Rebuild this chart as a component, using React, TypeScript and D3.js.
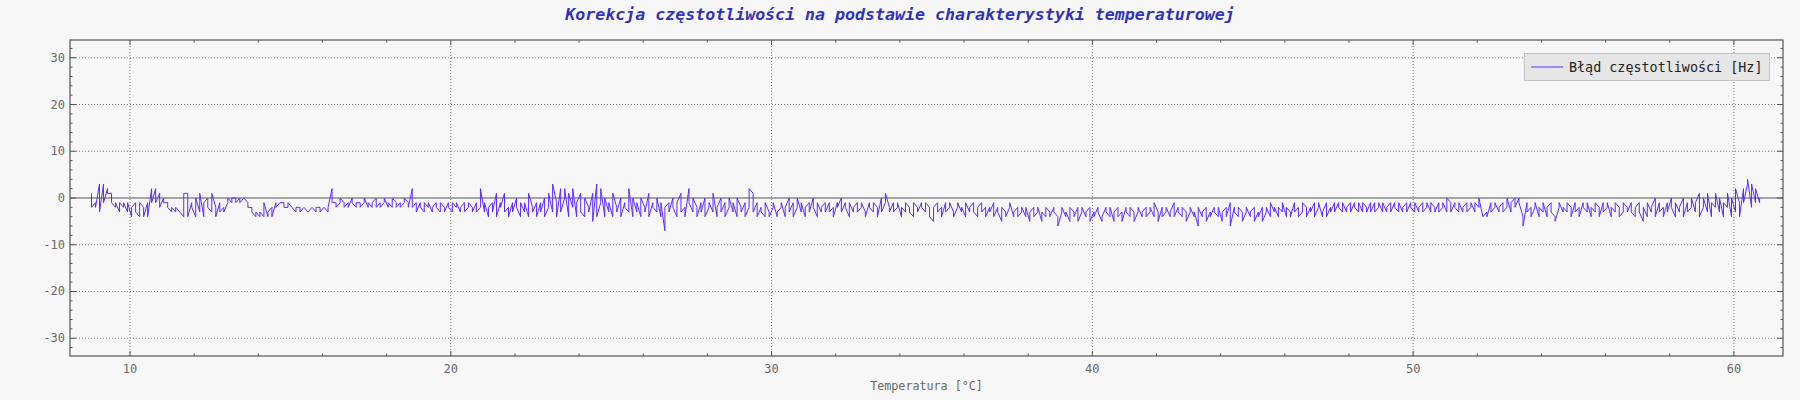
import * as d3 from "d3";
import { useEffect } from "react";

// frequency error [Hz]; two readings per sensor step of 0.125 °C,
// one row per degree (row start temperature in comment)
const T_START = 8.8;
const T_STEP = 0.125;
const READS_PER_STEP = 2;
const errorRows: number[][] = [
  [1, -2, -1, -2, 3, -3, 3, -1, 2, 1, 1, -1, -2, -1, -3, -1], // 8.8
  [-2, -1, -3, -1, -4, -2, -1, -3, -4, -1, -2, -4, -1, -4, 2, -1], // 9.8
  [2, -1, 1, -2, 0, -1, -1, -2, -3, -2, -3, -2, -3, -3, -4, 1], // 10.8
  [1, -4, -1, -2, -4, 0, -3, 1, -4, -1, 0, -2, -3, 1, -2, -4], // 11.8
  [-1, -3, -2, -3, -1, 0, -1, 0, 0, -1, 0, -1, 0, 0, -1, -2], // 12.8
  [-2, -3, -4, -3, -4, -3, -4, -1, -4, -3, -2, -4, -1, -2, -1, -1], // 13.8
  [-1, -2, -2, -1, -2, -2, -3, -2, -2, -3, -2, -2, -3, -3, -2, -2], // 14.8
  [-3, -2, -2, -3, -2, -2, -3, -2, 2, -1, -1, -2, -1, 0, -1, -2], // 15.8
  [-1, -2, 0, -1, -2, -1, -1, -2, -1, 0, -2, -1, -2, -1, 0, -2], // 16.8
  [-1, -2, -1, 0, -2, -1, -2, 0, -1, -2, -1, -2, -1, 0, -1, -2], // 17.8
  [2, -2, -1, -3, -1, -2, -3, -1, -2, -1, -3, -2, -1, -2, -3, -1], // 18.8
  [-2, -3, -1, -2, -3, -1, -2, -1, -3, -2, -1, -3, -2, -1, -2, -3], // 19.8
  [-1, -3, -2, 2, -3, -1, -4, -2, -1, -3, 1, -4, -1, -2, 1, -3], // 20.8
  [-2, -4, -1, -3, 0, -2, -4, -1, -3, -1, -4, 1, -2, -3, -1, -4], // 21.8
  [-1, -3, 0, -4, -2, 1, -3, 3, -1, -4, 2, -3, 0, 2, -4, 1], // 22.8
  [-2, 2, -4, -1, 1, -3, -4, 0, -2, -3, 1, -5, 3, -4, -1, 2], // 23.8
  [-4, 0, -3, -1, -4, 1, -2, -3, 0, -4, -1, -2, -3, 2, -4, 0], // 24.8
  [-3, -1, -4, 0, -2, -3, 1, -4, -1, -2, -3, 0, -4, -1, -7, -2], // 25.8
  [-1, -3, 0, -2, -4, -1, 1, -3, -2, -4, 2, -1, -3, 0, -2, -4], // 26.8
  [-1, -3, 0, -4, -2, -1, -3, 1, -4, -2, 0, -3, -1, -4, -2, 0], // 27.8
  [-3, -1, -4, 0, -2, -3, -1, -4, -2, 2, 1, -3, -1, -4, -2, -3], // 28.8
  [-4, -1, -3, -4, -2, -1, -4, -3, -2, -1, -4, -2, 0, -3, -1, -4], // 29.8
  [-2, 0, -3, -1, -4, -2, -1, -3, 0, -2, -4, -1, -3, -2, -1, -3], // 30.8
  [-1, -3, -2, -4, -1, -2, 0, -3, -1, -2, -4, -1, -3, -2, -1, -3], // 31.8
  [-2, -1, -3, -4, -1, -2, -3, -1, -2, -4, 0, -3, -1, 1, -2, -3], // 32.8
  [-1, -3, -2, -1, -4, -2, -3, -1, -2, -3, -4, -1, -2, -3, -1, -2], // 33.8
  [-3, -1, -2, -4, -5, -2, -1, -3, -2, -4, -1, -3, -2, -1, -3, -4], // 34.8
  [-2, -1, -3, -2, -4, -1, -3, -2, -1, -3, -4, -2, -1, -3, -2, -4], // 35.8
  [-2, -3, -1, -4, -2, -3, -5, -2, -3, -4, -2, -1, -4, -3, -2, -4], // 36.8
  [-3, -2, -4, -2, -5, -3, -2, -4, -3, -2, -5, -3, -4, -2, -3, -4], // 37.8
  [-2, -3, -4, -6, -3, -2, -4, -3, -5, -2, -3, -4, -2, -5, -3, -2], // 38.8
  [-4, -3, -2, -5, -3, -4, -2, -3, -5, -4, -2, -3, -4, -2, -5, -3], // 39.8
  [-2, -4, -3, -5, -2, -3, -4, -2, -3, -5, -3, -2, -4, -3, -2, -4], // 40.8
  [-3, -2, -4, -1, -3, -5, -2, -4, -3, -2, -4, -3, -1, -4, -2, -3], // 41.8
  [-4, -2, -3, -5, -3, -2, -4, -3, -6, -2, -4, -3, -2, -5, -3, -4], // 42.8
  [-2, -3, -4, -2, -5, -3, -2, -4, -1, -6, -2, -3, -4, -2, -3, -5], // 43.8
  [-3, -2, -4, -3, -2, -5, -3, -4, -2, -5, -3, -2, -4, -1, -3, -2], // 44.8
  [-4, -2, -3, -1, -4, -2, -3, -4, -1, -3, -2, -4, -3, -1, -2, -4], // 45.8
  [-2, -3, -1, -4, -2, -1, -4, -3, -1, -4, -2, -3, -1, -3, -1, -2], // 46.8
  [-3, -1, -3, -2, -1, -3, -1, -2, -3, -1, -3, -1, -2, -3, -1, -3], // 47.8
  [-1, -3, -2, -1, -3, -1, -3, -2, -1, -3, -1, -2, -3, -1, -3, -2], // 48.8
  [-1, -3, -1, -2, -3, -1, -3, -2, -1, -3, -2, -1, -3, -1, -2, -3], // 49.8
  [-1, -3, -2, -1, -3, 0, -1, -3, -1, -2, -3, -1, -3, -2, -1, -3], // 50.8
  [-2, -1, -3, -1, -2, 0, -4, -4, -3, -4, -1, -3, -2, -1, -3, -2], // 51.8
  [-1, -3, -2, 0, -3, -1, 0, -2, 0, -1, -4, -6, -1, -3, -2, -4], // 52.8
  [-2, -1, -4, -2, -3, -1, -4, -2, -1, -3, -4, -5, -2, -1, -3, -2], // 53.8
  [-3, -1, -2, -4, -1, -3, -2, -4, -1, -2, -3, -1, -4, -2, -3, -1], // 54.8
  [-2, -4, -1, -3, -2, -1, -4, -2, -3, -1, -2, -4, -3, -1, -2, -3], // 55.8
  [-1, -3, -4, -2, -1, -3, -5, -2, -4, -1, -3, -2, 0, -4, -1, -3], // 56.8
  [-2, -4, -1, -3, 0, -2, -4, -1, -3, -2, 0, -4, -1, -3, -2, 0], // 57.8
  [-3, -1, 1, -4, -2, 0, -3, 1, -4, -1, -2, 1, -3, 0, -4, -1], // 58.8
  [-2, 1, -4, 0, -3, 2, -1, -4, 2, -1, 3, 4, -2, 3, -1, 2], // 59.8
  [-1, 0], // 60.8
];
const freqError = errorRows.flat();

const xMajor = [10, 20, 30, 40, 50, 60];
const yMajor = [-30, -20, -10, 0, 10, 20, 30];
const xDomain: [number, number] = [8.13, 61.53];
const yDomain: [number, number] = [-33.8, 33.8];

const TITLE = "Korekcja częstotliwości na podstawie charakterystyki temperaturowej";
const X_LABEL = "Temperatura [°C]";
const SERIES_LABEL = "Błąd częstotliwości [Hz]";

const W = 1800;
const H = 400;
const margin = { top: 40, right: 17, bottom: 44, left: 70 };
const FONT = "'DejaVu Sans Mono', 'Liberation Mono', monospace";
const LINE_COLOR = "#5b2cff";
const AXIS_COLOR = "#555";

export default function App() {
  useEffect(() => {
    document.body.style.margin = "0";
    document.body.style.background = "#f7f7f7";
  }, []);

  const x = d3
    .scaleLinear()
    .domain(xDomain)
    .range([margin.left, W - margin.right]);
  const y = d3
    .scaleLinear()
    .domain(yDomain)
    .range([H - margin.bottom, margin.top]);

  const points = freqError.map((v, i) => ({
    t: T_START + Math.floor(i / READS_PER_STEP) * T_STEP,
    v,
  }));
  const line = d3
    .line<{ t: number; v: number }>()
    .x((d) => x(d.t))
    .y((d) => y(d.v));

  const xMinor = d3.range(10, xDomain[1], 2).filter((t) => t % 10 !== 0);
  const yMinor = d3.range(-32, yDomain[1], 2).filter((v) => v % 10 !== 0);

  const [x0, x1] = x.range();
  const [y0, y1] = y.range(); // y0 bottom, y1 top

  return (
    <svg width={W} height={H} style={{ display: "block", background: "#f7f7f7" }}>
      <text
        x={W / 2}
        y={20}
        textAnchor="middle"
        fontFamily={FONT}
        fontSize={16.6}
        fontWeight="bold"
        fontStyle="italic"
        fill="#3232bd"
      >
        {TITLE}
      </text>

      {/* grid */}
      <g stroke="#7a7a7a" strokeWidth={1} strokeDasharray="1,2">
        {xMajor.map((t) => (
          <line key={"gx" + t} x1={x(t)} x2={x(t)} y1={y1} y2={y0} />
        ))}
        {yMajor
          .filter((v) => v !== 0)
          .map((v) => (
            <line key={"gy" + v} x1={x0} x2={x1} y1={y(v)} y2={y(v)} />
          ))}
      </g>
      <line x1={x0} x2={x1} y1={y(0)} y2={y(0)} stroke={AXIS_COLOR} strokeWidth={1.2} />

      <path d={line(points) ?? ""} fill="none" stroke={LINE_COLOR} strokeWidth={1} />

      {/* frame and ticks */}
      <rect
        x={x0}
        y={y1}
        width={x1 - x0}
        height={y0 - y1}
        fill="none"
        stroke={AXIS_COLOR}
        strokeWidth={1.2}
      />
      <g stroke={AXIS_COLOR} strokeWidth={1}>
        {xMajor.map((t) => (
          <g key={"tx" + t}>
            <line x1={x(t)} x2={x(t)} y1={y0} y2={y0 - 5} />
            <line x1={x(t)} x2={x(t)} y1={y1} y2={y1 + 5} />
          </g>
        ))}
        {xMinor.map((t) => (
          <g key={"mx" + t}>
            <line x1={x(t)} x2={x(t)} y1={y0} y2={y0 - 2.5} />
            <line x1={x(t)} x2={x(t)} y1={y1} y2={y1 + 2.5} />
          </g>
        ))}
        {yMajor.map((v) => (
          <g key={"ty" + v}>
            <line x1={x0} x2={x0 + 6} y1={y(v)} y2={y(v)} />
            <line x1={x1} x2={x1 - 6} y1={y(v)} y2={y(v)} />
          </g>
        ))}
        {yMinor.map((v) => (
          <g key={"my" + v}>
            <line x1={x0} x2={x0 + 2.5} y1={y(v)} y2={y(v)} />
            <line x1={x1} x2={x1 - 2.5} y1={y(v)} y2={y(v)} />
          </g>
        ))}
      </g>

      {/* tick labels */}
      <g fontFamily={FONT} fontSize={12} fill="#6a6a6a">
        {xMajor.map((t) => (
          <text key={"lx" + t} x={x(t)} y={y0 + 16.5} textAnchor="middle">
            {t}
          </text>
        ))}
        {yMajor.map((v) => (
          <text key={"ly" + v} x={x0 - 5} y={y(v) + 4} textAnchor="end">
            {v}
          </text>
        ))}
        <text x={(x0 + x1) / 2} y={H - 10} textAnchor="middle" fontSize={11.7}>
          {X_LABEL}
        </text>
      </g>

      {/* legend */}
      <g>
        <rect x={1524.5} y={53.5} width={245} height={27} fill="#e6e6e6" stroke="#c4c4c4" strokeWidth={1} />
        <line x1={1531} x2={1563} y1={67} y2={67} stroke={LINE_COLOR} strokeWidth={1} />
        <text x={1569} y={71.5} fontFamily={FONT} fontSize={13.4} fill="#222">
          {SERIES_LABEL}
        </text>
      </g>
    </svg>
  );
}
